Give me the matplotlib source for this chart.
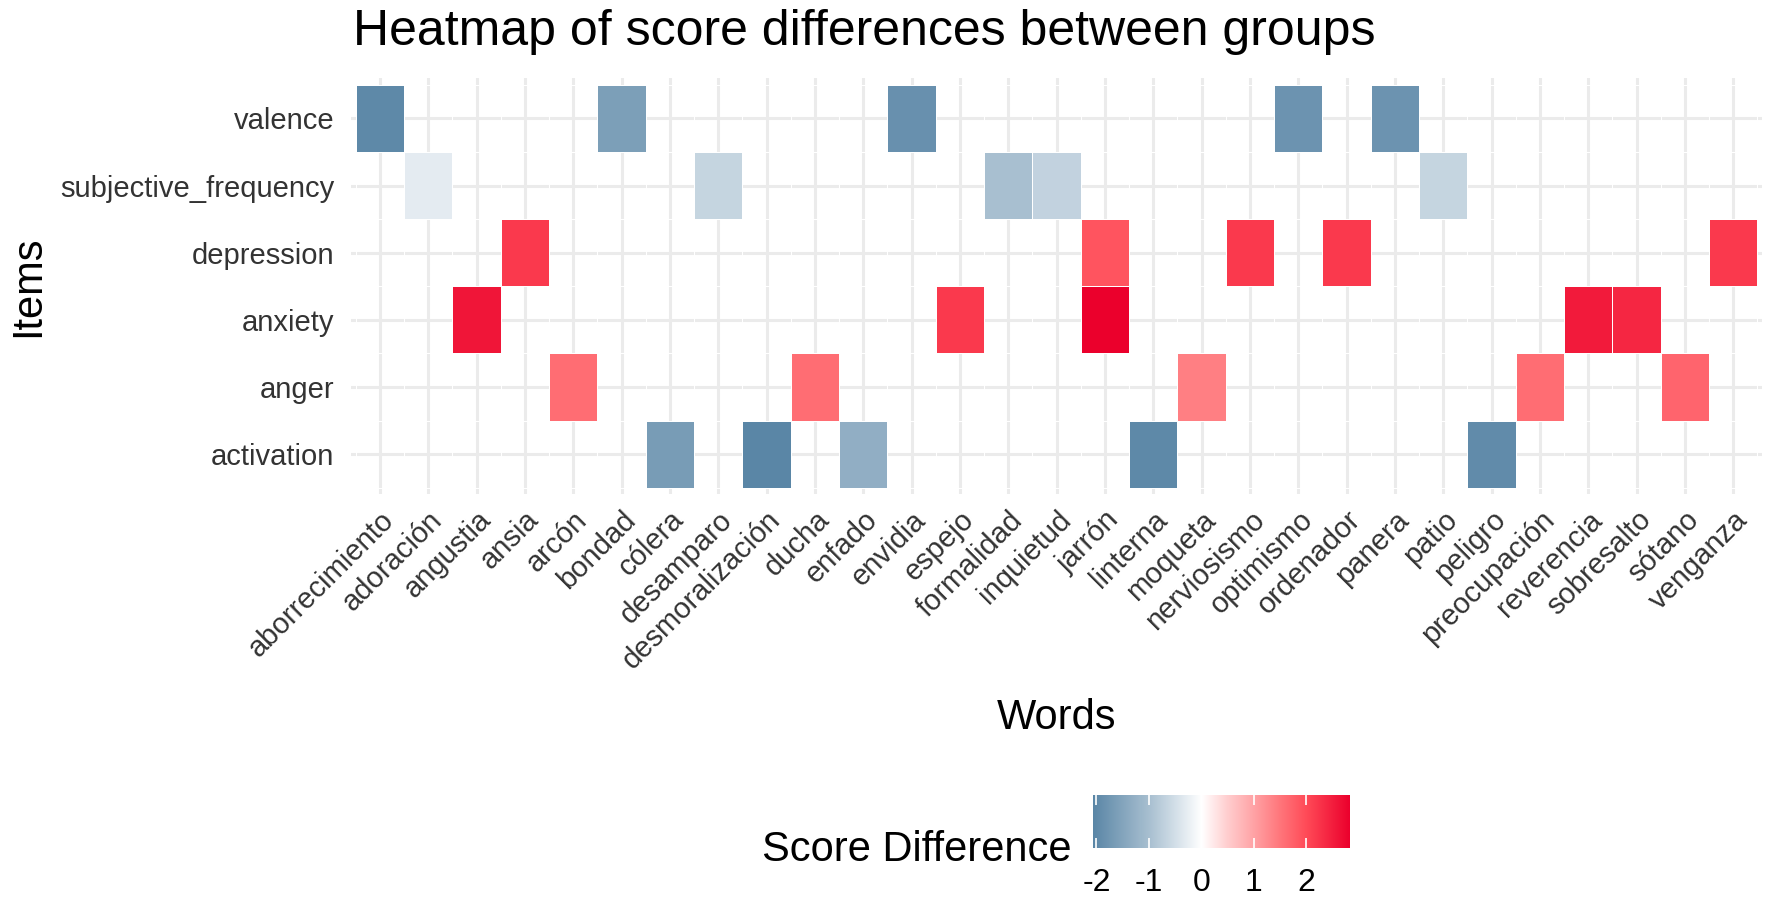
import numpy as np
import matplotlib
matplotlib.use("Agg")
import matplotlib.pyplot as plt
from matplotlib.colors import LinearSegmentedColormap, Normalize
from matplotlib.cm import ScalarMappable

plt.rcParams['font.family'] = ['Liberation Sans', 'DejaVu Sans']
plt.rcParams['axes.unicode_minus'] = False

words = ["aborrecimiento", "adoración", "angustia", "ansia", "arcón", "bondad",
         "cólera", "desamparo", "desmoralización", "ducha", "enfado", "envidia",
         "espejo", "formalidad", "inquietud", "jarrón", "linterna", "moqueta",
         "nerviosismo", "optimismo", "ordenador", "panera", "patio", "peligro",
         "preocupación", "reverencia", "sobresalto", "sótano", "venganza"]
items = ["activation", "anger", "anxiety", "depression", "subjective_frequency", "valence"]

# one entry per coloured tile
cell_words = ["aborrecimiento", "bondad", "envidia", "optimismo", "panera",
              "adoración", "desamparo", "formalidad", "inquietud", "patio",
              "ansia", "jarrón", "nerviosismo", "ordenador", "venganza",
              "angustia", "espejo", "jarrón", "reverencia", "sobresalto",
              "arcón", "ducha", "moqueta", "preocupación", "sótano",
              "cólera", "desmoralización", "enfado", "linterna", "peligro"]
cell_items = ["valence"] * 5 + ["subjective_frequency"] * 5 + ["depression"] * 5 + \
             ["anxiety"] * 5 + ["anger"] * 5 + ["activation"] * 5
cell_values = [-2.0, -1.6, -1.85, -1.8, -1.8,
               -0.3, -0.65, -1.0, -0.7, -0.65,
               2.2, 1.9, 2.2, 2.2, 2.2,
               2.6, 2.2, 2.84, 2.55, 2.4,
               1.6, 1.6, 1.4, 1.6, 1.7,
               -1.65, -2.06, -1.3, -2.0, -1.95]

vmin, vmax = -2.06, 2.84
stops = [(-2.06, '#5A86A6'), (-1.0, '#A8BFD0'), (-0.5, '#D3DFE8'), (0.0, '#FFFFFF'),
         (0.5, '#FFCDCE'), (1.0, '#FFA2A5'), (1.5, '#FF767B'), (2.0, '#FF4B58'),
         (2.84, '#EB002C')]
cmap = LinearSegmentedColormap.from_list(
    "diff", [((v - vmin) / (vmax - vmin), c) for v, c in stops])
cmap.set_bad((1, 1, 1, 0))
norm = Normalize(vmin, vmax)

grid = np.full((len(items), len(words)), np.nan)
for w, it, v in zip(cell_words, cell_items, cell_values):
    grid[items.index(it), words.index(w)] = v

fig = plt.figure(figsize=(17.72, 9.09), dpi=100)
ax = fig.add_axes([0.198, 0.456, 0.7965, 0.458])
ax.pcolormesh(np.arange(len(words) + 1) - 0.5, np.arange(len(items) + 1) - 0.5,
              np.ma.masked_invalid(grid), cmap=cmap, norm=norm,
              edgecolors='white', linewidth=0.6, zorder=2)
ax.set_xlim(-0.6, len(words) - 0.4)
ax.set_ylim(-0.6, len(items) - 0.4)
ax.set_xticks(range(len(words)))
ax.set_xticklabels(words, rotation=45, ha='right', rotation_mode='anchor',
                   fontsize=21, color='#333333')
ax.set_yticks(range(len(items)))
ax.set_yticklabels(items, fontsize=21, color='#333333')
ax.tick_params(length=0, pad=12)
ax.tick_params(axis='x', pad=8)
ax.grid(True, color='#EBEBEB', linewidth=2.2, zorder=0)
ax.set_axisbelow(True)
for s in ax.spines.values():
    s.set_visible(False)

fig.text(0.199, 0.965, "Heatmap of score differences between groups",
         fontsize=36, ha='left', va='center')
fig.text(0.596, 0.21, "Words", fontsize=30, ha='center', va='center')
fig.text(0.016, 0.685, "Items", fontsize=30, ha='center', va='center', rotation=90)

# colour bar legend
cax = fig.add_axes([0.617, 0.067, 0.145, 0.058])
cb = fig.colorbar(ScalarMappable(norm=norm, cmap=cmap), cax=cax, orientation='horizontal')
cb.outline.set_visible(False)
cb.set_ticks([-2, -1, 0, 1, 2])
cax.tick_params(axis='x', direction='in', length=7, width=1.2, color='white',
                top=True, bottom=True, labelsize=23, pad=14)
fig.text(0.6046, 0.065, "Score Difference", fontsize=30, ha='right', va='center')

fig.savefig("out.png", dpi=100)
